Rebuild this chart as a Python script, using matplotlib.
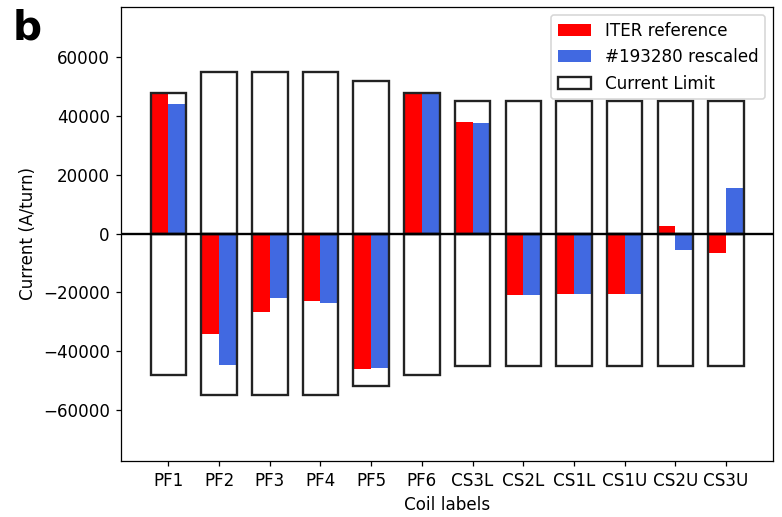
import numpy as np
import matplotlib
matplotlib.use("Agg")
import matplotlib.pyplot as plt

coils = ["PF1", "PF2", "PF3", "PF4", "PF5", "PF6",
         "CS3L", "CS2L", "CS1L", "CS1U", "CS2U", "CS3U"]
iter_ref = [48000, -34300, -26800, -22800, -46000, 48000,
            38000, -20900, -20600, -20600, 2700, -6700]
shot_rescaled = [44000, -44700, -22000, -23600, -45800, 48000,
                 37500, -20800, -20600, -20600, -5700, 15400]
limit_pos = [48000, 55000, 55000, 55000, 52000, 48000,
             45000, 45000, 45000, 45000, 45000, 45000]
limit_neg = [-48000, -55000, -55000, -55000, -52000, -48000,
             -45000, -45000, -45000, -45000, -45000, -45000]

plt.rcParams["font.size"] = 10.7

dpi = 113
fig = plt.figure(figsize=(782 / dpi, 517 / dpi), dpi=dpi)
ax = fig.add_axes([0.1547, 0.1083, 0.9891 - 0.1547, 0.987 - 0.1083])

x = np.arange(len(coils))
w = 0.35

ax.bar(x - w / 2, iter_ref, w, color="red", label="ITER reference")
ax.bar(x + w / 2, shot_rescaled, w, color="royalblue", label="#193280 rescaled")
ax.bar(x, limit_pos, 2 * w, fill=False, edgecolor="#222222", linewidth=1.5,
       label="Current Limit")
ax.bar(x, limit_neg, 2 * w, fill=False, edgecolor="#222222", linewidth=1.5)

ax.axhline(0, color="black", linewidth=1.5)

ax.set_xticks(x)
ax.set_xticklabels(coils)
ax.set_ylim(-77400, 77200)
ax.set_xlabel("Coil labels")
ax.set_ylabel("Current (A/turn)")
ax.legend(loc="upper right")

fig.text(0.016, 0.984, "b", fontsize=26, fontweight="bold", va="top", ha="left")

fig.savefig("out.png", dpi=dpi)
